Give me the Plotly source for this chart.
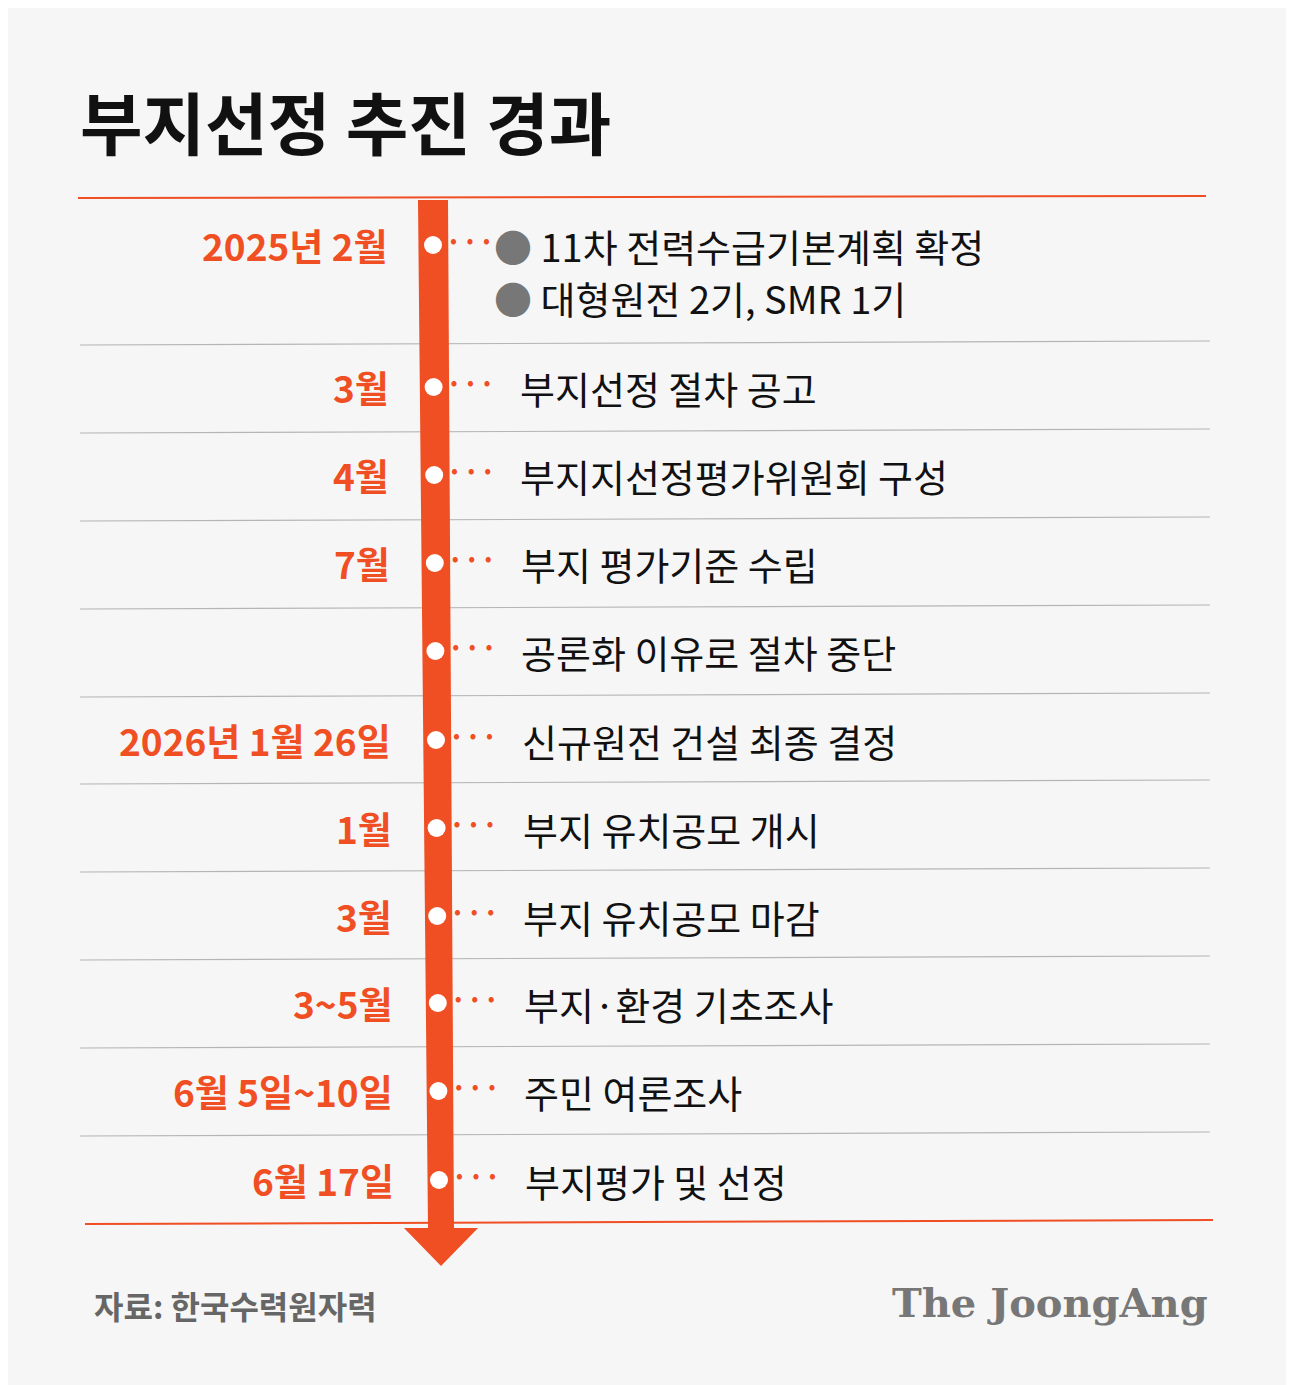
import plotly.graph_objects as go

dates = ["2025년 2월", "3월", "4월", "7월", "", "2026년 1월 26일", "1월", "3월", "3~5월", "6월 5일~10일", "6월 17일"]
events = ["• 11차 전력수급기본계획 확정<br>• 대형원전 2기, SMR 1기", "부지선정 절차 공고", "부지지선정평가위원회 구성",
          "부지 평가기준 수립", "공론화 이유로 절차 중단", "신규원전 건설 최종 결정", "부지 유치공모 개시",
          "부지 유치공모 마감", "부지·환경 기초조사", "주민 여론조사", "부지평가 및 선정"]
row_y = [245, 387, 475, 563, 651, 740, 828, 916, 1003, 1091, 1180]
sep_y = [343, 431, 519, 607, 695, 782, 870, 958, 1046, 1134]

OR = "#f04e23"
W, H = 1294, 1385
OFF = 8
FONT = "Noto Sans CJK KR"
fig = go.Figure()
shapes = [dict(type="rect", x0=0, x1=W+OFF, y0=0, y1=H+OFF, fillcolor="#f6f6f6", line_width=0, layer="below"),
          dict(type="line", x0=78, x1=1206, y0=198, y1=196, line=dict(color=OR, width=2), layer="below"),
          dict(type="line", x0=85, x1=1213, y0=1224, y1=1220, line=dict(color=OR, width=2), layer="below")]
for y in sep_y:
    shapes.append(dict(type="line", x0=80, x1=1210, y0=y+2, y1=y-2, line=dict(color="#b5b5b5", width=1.2), layer="below"))
shapes.append(dict(type="path", path="M418,200 L448,200 L454,1228 L478,1228 L441,1266 L404,1228 L428,1228 Z",
                   fillcolor=OR, line_width=0, layer="below"))
fig.update_layout(shapes=shapes)

fig.add_trace(go.Scatter(x=[433 + i*0.6 for i in range(len(row_y))], y=row_y, mode="markers",
                         marker=dict(color="white", size=18, line=dict(width=0)), hoverinfo="skip"))
fig.add_trace(go.Scatter(x=[470 + i*0.6 for i in range(len(row_y))], y=row_y, mode="text",
                         text=["<b>···</b>"]*len(row_y), textfont=dict(color=OR, size=28, family=FONT),
                         hoverinfo="skip"))

ann = [dict(x=78, y=120, text="<b>부지선정 추진 경과</b>", xanchor="left", yanchor="middle", showarrow=False,
            font=dict(size=68, color="#111", family=FONT))]
for i, (d, e, y) in enumerate(zip(dates, events, row_y)):
    if d:
        ann.append(dict(x=390 + i*0.6, y=y, text="<b>"+d+"</b>", xanchor="right", yanchor="middle", showarrow=False,
                        font=dict(size=37, color=OR, family=FONT)))
    if i == 0:
        ann.append(dict(x=492, y=y, text="<span style='color:#777'>●</span> 11차 전력수급기본계획 확정", xanchor="left",
                        yanchor="middle", showarrow=False, font=dict(size=38, color="#111", family=FONT)))
        ann.append(dict(x=492, y=297, text="<span style='color:#777'>●</span> 대형원전 2기, SMR 1기", xanchor="left",
                        yanchor="middle", showarrow=False, font=dict(size=38, color="#111", family=FONT)))
    else:
        ann.append(dict(x=517 + i*0.6, y=y, text=e, xanchor="left", yanchor="middle", showarrow=False,
                        font=dict(size=38, color="#111", family=FONT)))
ann.append(dict(x=92, y=1305, text="<b>자료: 한국수력원자력</b>", xanchor="left", yanchor="middle", showarrow=False,
                font=dict(size=32, color="#666", family=FONT)))
ann.append(dict(x=1210, y=1302, text="<b>The JoongAng</b>", xanchor="right", yanchor="middle", showarrow=False,
                font=dict(size=40, color="#777", family="DejaVu Serif")))

fig.update_layout(annotations=ann, width=W, height=H, margin=dict(l=0, r=0, t=0, b=0),
                  paper_bgcolor="#f6f6f6", plot_bgcolor="#f6f6f6", showlegend=False,
                  xaxis=dict(range=[OFF, W+OFF], visible=False, fixedrange=True),
                  yaxis=dict(range=[H+OFF, OFF], visible=False, fixedrange=True))
fig.write_html("out.html", config={"displayModeBar": False})
